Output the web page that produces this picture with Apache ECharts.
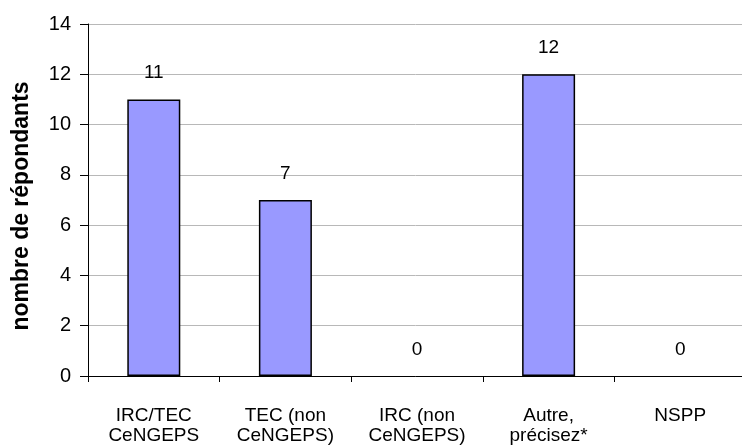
<!DOCTYPE html>
<html>
<head>
<meta charset="utf-8">
<script src="https://cdn.jsdelivr.net/npm/echarts@6/dist/echarts.min.js"></script>
<style>
html,body{margin:0;padding:0;background:#fff;}
#c{width:742px;height:448px;}
</style>
</head>
<body>
<div id="c"></div>
<script>
var categories = ['IRC/TEC\nCeNGEPS', 'TEC (non\nCeNGEPS)', 'IRC (non\nCeNGEPS)', 'Autre,\nprécisez*', 'NSPP'];
var values = [11, 7, 0, 12, 0];
var yTicks = { min: 0, max: 14, interval: 2 };
var yAxisTitle = 'nombre de répondants';

var chart = echarts.init(document.getElementById('c'), null, { renderer: 'canvas' });
var font = 'Arial, "Liberation Sans", sans-serif';
var barData = values.map(function (v) {
  return v === 0 ? { value: v, itemStyle: { borderWidth: 0, color: 'rgba(0,0,0,0)' } } : v;
});
chart.setOption({
  animation: false,
  backgroundColor: '#ffffff',
  grid: { left: 88, top: 24, width: 658, height: 352, containLabel: false, outerBoundsMode: 'none' },
  xAxis: {
    type: 'category',
    data: categories,
    boundaryGap: true,
    axisLine: { show: true, lineStyle: { color: '#000', width: 1 } },
    axisTick: { show: true, alignWithLabel: false, length: 6, lineStyle: { color: '#000' } },
    axisLabel: {
      interval: 0,
      margin: 30,
      color: '#000',
      fontFamily: font,
      fontSize: 19,
      lineHeight: 20
    },
    splitLine: { show: false }
  },
  yAxis: {
    type: 'value',
    min: yTicks.min,
    max: yTicks.max,
    interval: yTicks.interval,
    name: yAxisTitle,
    nameLocation: 'middle',
    nameGap: 55,
    nameRotate: 90,
    nameTextStyle: { color: '#000', fontFamily: font, fontSize: 23, fontWeight: 'bold', padding: [0, 12, 0, 0] },
    axisLine: { show: true, lineStyle: { color: '#000', width: 1 } },
    axisTick: { show: true, length: 8, lineStyle: { color: '#000' } },
    axisLabel: { margin: 17, color: '#000', fontFamily: font, fontSize: 20 },
    splitLine: { show: true, lineStyle: { color: '#b8b8b8', width: 1 } }
  },
  series: [{
    type: 'bar',
    data: barData,
    barWidth: 53,
    itemStyle: { color: '#9999ff', borderColor: '#000', borderWidth: 1.5 },
    label: {
      show: true,
      position: 'top',
      distance: 17,
      color: '#000',
      fontFamily: font,
      fontSize: 19
    }
  }]
});
</script>
</body>
</html>
